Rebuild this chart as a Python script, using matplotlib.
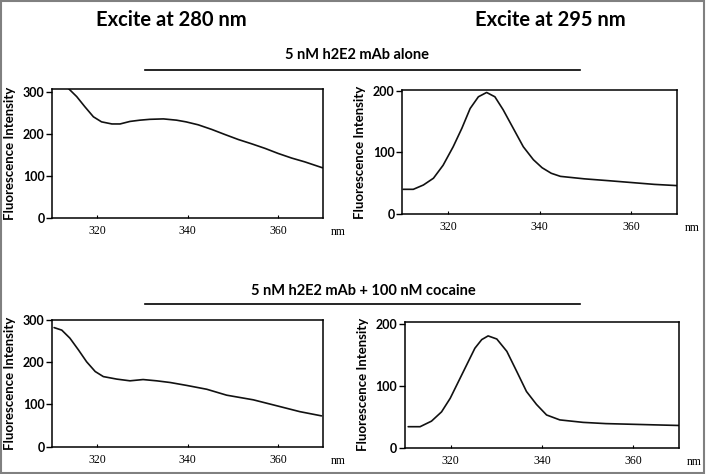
import matplotlib
matplotlib.use("Agg")
import matplotlib.pyplot as plt
from matplotlib.lines import Line2D
from matplotlib.patches import Rectangle

# ---- data ----
wl_a = [313.5, 315.4, 317.2, 319.1, 320.9, 323.2, 325.0, 327.2, 329.4, 331.6, 334.6, 337.5,
        339.6, 342.3, 345.3, 348.2, 351.2, 354.1, 357.1, 360.0, 363.0, 365.9, 369.8]
fi_a = [309, 289, 265, 241, 229, 224, 224, 230, 233, 235, 236, 233,
        229, 222, 211, 199, 187, 177, 166, 154, 143, 134, 120]

wl_b = [310.2, 312.4, 314.6, 316.8, 318.9, 321.1, 323.0, 324.8, 326.6, 328.4, 330.2, 332.0,
        334.2, 336.4, 338.6, 340.5, 342.5, 344.5, 349.7, 355.0, 360.0, 365.0, 370.0]
fi_b = [40, 40, 47, 58, 79, 109, 139, 171, 190, 197, 190, 169,
        139, 109, 88, 75, 66, 61, 57, 54, 51, 48, 46]

wl_c = [310.4, 312.1, 313.9, 315.8, 317.6, 319.5, 321.3, 324.3, 327.2, 330.1, 333.1, 336.1,
        339.8, 344.2, 348.6, 354.5, 360.4, 364.8, 369.6]
fi_c = [282, 276, 257, 229, 201, 178, 166, 160, 156, 159, 156, 152,
        145, 136, 122, 111, 95, 83, 73]

wl_d = [310.7, 313.3, 315.8, 318.0, 319.9, 321.7, 323.5, 325.3, 326.8, 328.2, 330.1, 332.3,
        334.5, 336.6, 338.8, 341.0, 343.9, 349.0, 354.0, 359.3, 364.5, 369.9]
fi_d = [34, 34, 43, 58, 80, 107, 134, 161, 175, 181, 176, 156,
        123, 91, 70, 53, 45, 41, 39, 38, 37, 36]

x_ticks = [320, 340, 360]
y_ticks_300 = [0, 100, 200, 300]
y_ticks_200 = [0, 100, 200]

col_titles = ["Excite at 280 nm", "Excite at 295 nm"]
row_titles = ["5 nM h2E2 mAb alone", "5 nM h2E2 mAb + 100 nM cocaine"]
ylabel = "Fluorescence Intensity"
unit = "nm"

W, H = 707, 474
fig = plt.figure(figsize=(W / 100, H / 100), dpi=100)
fig.patch.set_facecolor("white")

def px_axes(l, t, r, b):
    return fig.add_axes([l / W, 1 - b / H, (r - l) / W, (b - t) / H])

def fx(x):
    return x / W

def fy(y):
    return 1 - y / H

SANS = ["Lato", "DejaVu Sans"]
SERIF = ["Liberation Serif", "DejaVu Serif"]

panels = [
    ((52.3, 89, 323.3, 218.3), wl_a, fi_a, (0, 307), y_ticks_300),
    ((402.3, 90, 677.3, 214), wl_b, fi_b, (0, 201), y_ticks_200),
    ((52.3, 320, 323.3, 446.7), wl_c, fi_c, (0, 300), y_ticks_300),
    ((405, 321.7, 679, 447.7), wl_d, fi_d, (0, 204), y_ticks_200),
]

for (l, t, r, b), xs, ys, ylim, yt in panels:
    ax = px_axes(l, t, r, b)
    ax.plot(xs, ys, color="#111111", lw=1.2, solid_joinstyle="round",
            solid_capstyle="round", clip_on=True)
    ax.set_xlim(310, 370)
    ax.set_ylim(*ylim)
    ax.set_xticks(x_ticks)
    ax.set_yticks(yt)
    ax.set_xticklabels([str(v) for v in x_ticks], family=SERIF, fontsize=8.5)
    ax.set_yticklabels([str(v) for v in yt], family=SANS, fontsize=9, fontweight="bold")
    ax.tick_params(axis="y", direction="out", length=4, width=1, pad=1.5)
    ax.tick_params(axis="x", direction="in", length=2, width=0.8, pad=5)
    for s in ax.spines.values():
        s.set_linewidth(1.1)
        s.set_color("black")
    ax.set_ylabel(ylabel, family=SANS, fontsize=9.5, fontweight="bold", labelpad=5)
    fig.text(fx(r + 15), fy(b + 14), unit, family=SERIF, fontsize=8.5,
             ha="center", va="center")

# column titles
fig.text(fx(171), fy(20), col_titles[0], family=SANS, fontsize=14.5,
         fontweight="bold", ha="center", va="center")
fig.text(fx(550), fy(20), col_titles[1], family=SANS, fontsize=14.5,
         fontweight="bold", ha="center", va="center")

# row subtitles with underline
fig.text(fx(357), fy(55), row_titles[0], family=SANS, fontsize=10.5,
         fontweight="bold", ha="center", va="center")
fig.add_artist(Line2D([fx(145), fx(580)], [fy(70), fy(70)], color="black", lw=1.2))
fig.text(fx(363), fy(291), row_titles[1], family=SANS, fontsize=10.5,
         fontweight="bold", ha="center", va="center")
fig.add_artist(Line2D([fx(145), fx(580)], [fy(303.5), fy(303.5)], color="black", lw=1.2))

# grey frame around figure
fig.add_artist(Rectangle((0.002, 0.003), 0.994, 0.994, transform=fig.transFigure,
                         fill=False, edgecolor="#808080", lw=1.5))

fig.savefig("out.png", dpi=100, facecolor="white")
